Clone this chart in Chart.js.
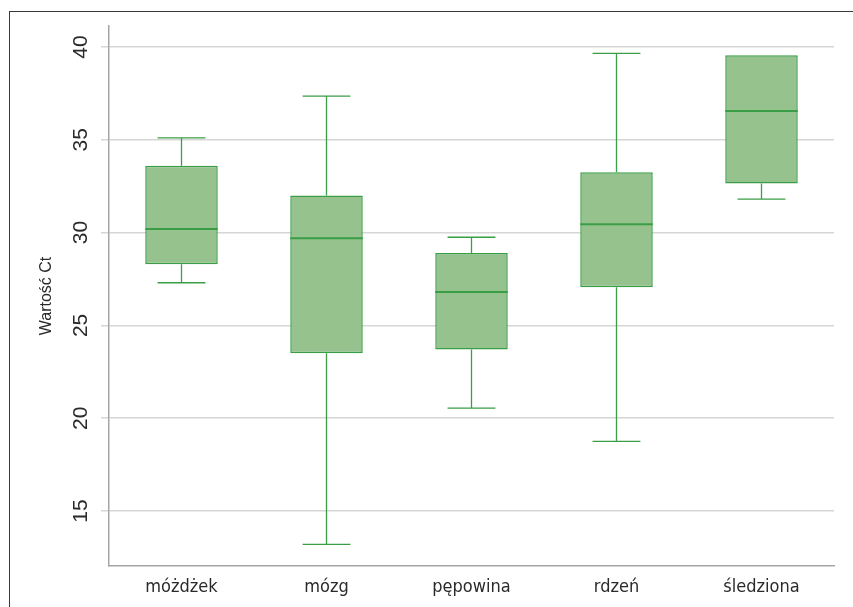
<!DOCTYPE html>
<html>
<head>
<meta charset="utf-8">
<script src="https://cdn.jsdelivr.net/npm/chart.js@4.4.0/dist/chart.umd.min.js"></script>
<style>
  html, body { margin: 0; padding: 0; background: #fff; }
  #wrap { position: relative; width: 853px; height: 607px; overflow: hidden; }
  #frame { position: absolute; left: 9px; top: 11px; width: 900px; height: 700px;
           border-left: 1.5px solid #3a3a3a; border-top: 1.5px solid #3a3a3a; pointer-events: none; }
  canvas { position: absolute; left: 0; top: 0; }
</style>
</head>
<body>
<div id="wrap">
  <canvas id="c" width="853" height="607"></canvas>
  <div id="frame"></div>
</div>
<script>
const categories = ['móżdżek', 'mózg', 'pępowina', 'rdzeń', 'śledziona'];
const whiskerMin = [27.3, 13.2, 20.55, 18.75, 31.8];
const q1Values   = [28.3, 23.5, 23.7, 27.05, 32.65];
const medians    = [30.2, 29.7, 26.8, 30.45, 36.55];
const q3Values   = [33.6, 32.0, 28.9, 33.25, 39.55];
const whiskerMax = [35.1, 37.35, 29.75, 39.65, 39.55];
const yTicks = [15, 20, 25, 30, 35, 40];
const yTitle = 'Wartość Ct';

const fillColor = 'rgb(150,194,142)';
const lineColor = 'rgb(58,158,70)';

const boxPlugin = {
  id: 'boxWhiskers',
  afterDatasetsDraw(chart) {
    const ctx = chart.ctx;
    const meta = chart.getDatasetMeta(0);
    const ys = chart.scales.y;
    ctx.save();
    ctx.strokeStyle = lineColor;
    meta.data.forEach((bar, i) => {
      const x = bar.x;
      const w = bar.width;
      const capHalf = w * 0.33;
      const pMin = ys.getPixelForValue(whiskerMin[i]);
      const pMax = ys.getPixelForValue(whiskerMax[i]);
      const pQ1 = ys.getPixelForValue(q1Values[i]);
      const pQ3 = ys.getPixelForValue(q3Values[i]);
      const pMed = ys.getPixelForValue(medians[i]);
      ctx.lineWidth = 1.3;
      ctx.beginPath();
      if (whiskerMax[i] > q3Values[i]) {
        ctx.moveTo(x, pQ3); ctx.lineTo(x, pMax);
        ctx.moveTo(x - capHalf, pMax); ctx.lineTo(x + capHalf, pMax);
      }
      if (whiskerMin[i] < q1Values[i]) {
        ctx.moveTo(x, pQ1); ctx.lineTo(x, pMin);
        ctx.moveTo(x - capHalf, pMin); ctx.lineTo(x + capHalf, pMin);
      }
      ctx.stroke();
      ctx.lineWidth = 2;
      ctx.beginPath();
      ctx.moveTo(x - w / 2, pMed); ctx.lineTo(x + w / 2, pMed);
      ctx.stroke();
    });
    ctx.restore();
  }
};

new Chart(document.getElementById('c'), {
  type: 'bar',
  data: {
    labels: categories,
    datasets: [{
      data: categories.map((c, i) => [q1Values[i], q3Values[i]]),
      backgroundColor: fillColor,
      borderColor: lineColor,
      borderWidth: 1.5,
      borderSkipped: false,
      barPercentage: 0.5,
      categoryPercentage: 1.0
    }]
  },
  plugins: [boxPlugin],
  options: {
    responsive: false,
    animation: false,
    devicePixelRatio: 1,
    layout: { padding: { left: 0, right: 19, top: 26, bottom: 0 } },
    plugins: { legend: { display: false }, tooltip: { enabled: false } },
    scales: {
      x: {
        grid: { display: false, drawTicks: false },
        border: { display: true, color: '#a6a6a6', width: 1.5 },
        ticks: {
          color: '#2a2a2a',
          padding: 11,
          font: { family: '"Liberation Sans Narrow", "DejaVu Sans Condensed", sans-serif', size: 18 }
        },
        afterFit(s) { s.height = 41; }
      },
      y: {
        min: 12.04,
        max: 41.13,
        afterBuildTicks(s) { s.ticks = yTicks.map(v => ({ value: v })); },
        grid: { color: '#d6d6d6', lineWidth: 1.5, tickLength: 8, drawTicks: true },
        border: { display: true, color: '#a6a6a6', width: 1.5 },
        ticks: {
          color: '#2a2a2a',
          minRotation: 90,
          maxRotation: 90,
          crossAlign: 'center',
          padding: 8,
          font: { family: '"Liberation Sans", Arial, sans-serif', size: 21 }
        },
        title: {
          display: true,
          text: yTitle,
          color: '#2a2a2a',
          font: { family: '"Liberation Sans", Arial, sans-serif', size: 16 },
          padding: { top: 37, bottom: 0 }
        },
        afterFit(s) { s.width = 109; }
      }
    }
  }
});
</script>
</body>
</html>
